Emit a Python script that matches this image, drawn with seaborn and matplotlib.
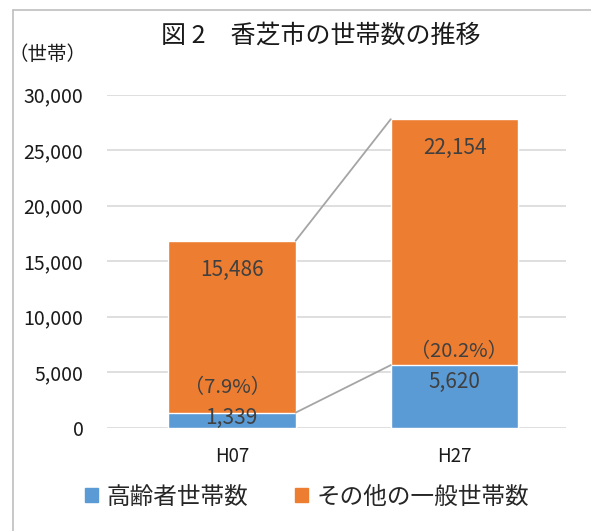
import matplotlib
matplotlib.use("Agg")
import matplotlib.pyplot as plt
import seaborn as sns
import pandas as pd
from matplotlib.lines import Line2D
from matplotlib.patches import Rectangle

# ---- data ----
categories = ["H07", "H27"]
elderly = [1339, 5620]
other = [15486, 22154]
pct_labels = ["（7.9%）", "（20.2%）"]
series_names = ["高齢者世帯数", "その他の一般世帯数"]
yticks = [0, 5000, 10000, 15000, 20000, 25000, 30000]
title = "図 2　香芝市の世帯数の推移"
ylabel = "（世帯）"

BLUE = "#5B9BD5"
ORANGE = "#ED7D31"
GRID = "#D9D9D9"
LBL = "#404040"

sns.set_theme(style="white")
plt.rcParams['font.family'] = ['Noto Sans CJK JP', 'DejaVu Sans']

df = pd.DataFrame({
    "cat": categories,
    "elderly": elderly,
    "other": other,
})
df["total"] = df["elderly"] + df["other"]

fig = plt.figure(figsize=(5.91, 5.31), dpi=100)
ax = fig.add_axes([107/591, 1-427.5/531, (566-107)/591, (427.5-94.5)/531])

sns.barplot(data=df, x="cat", y="total", color=ORANGE, width=0.573,
            saturation=1, ax=ax, zorder=2)
sns.barplot(data=df, x="cat", y="elderly", color=BLUE, width=0.573,
            saturation=1, ax=ax, zorder=3)

ax.set_ylim(0, 30000)
ax.set_xlim(-0.56, 1.50)
ax.set_yticks(yticks)
ax.set_yticklabels([f"{v:,}" for v in yticks], fontsize=14, color="#1a1a1a")
ax.tick_params(axis="y", length=0, pad=17)
ax.tick_params(axis="x", length=0, pad=13, labelsize=13.5, labelcolor="#1a1a1a")
ax.set_xlabel("")
ax.set_ylabel("")
for s in ax.spines.values():
    s.set_visible(False)
ax.grid(axis="y", color=GRID, linewidth=1.2, zorder=0)
ax.set_axisbelow(True)

patches = ax.patches
n = len(categories)
tot_bars = patches[:n]
eld_bars = patches[n:2*n]

# connector lines
for a, b in [(tot_bars[0], tot_bars[1]), (eld_bars[0], eld_bars[1])]:
    ax.plot([a.get_x() + a.get_width(), b.get_x()],
            [a.get_height(), b.get_height()],
            color="#A5A5A5", linewidth=1.3, zorder=4)

# value labels
for i in range(n):
    xc = tot_bars[i].get_x() + tot_bars[i].get_width() / 2
    ax.annotate(f"{other[i]:,}", (xc, df["total"][i]), xytext=(0, -21),
                textcoords="offset points", ha="center", va="center",
                fontsize=15, color=LBL, zorder=5)
offs_val = [-4, -12]
offs_pct = [18, 10]
offs_pct_x = [-3, 3]
for i in range(n):
    xc = eld_bars[i].get_x() + eld_bars[i].get_width() / 2
    ax.annotate(f"{elderly[i]:,}", (xc, elderly[i]), xytext=(0, offs_val[i]),
                textcoords="offset points", ha="center", va="center",
                fontsize=15, color=LBL, zorder=5)
    ax.annotate(pct_labels[i], (xc, elderly[i]), xytext=(offs_pct_x[i], offs_pct[i]),
                textcoords="offset points", ha="center", va="center",
                fontsize=14.5, color=LBL, zorder=5)

# title and y label
fig.text(321/591, 1-36/531, title, ha="center", va="center", fontsize=18, color="#1a1a1a")
fig.text(48/591, 1-55/531, ylabel, ha="center", va="center", fontsize=14, color="#1a1a1a")

# legend
handles = [Rectangle((0, 0), 1, 1, color=BLUE), Rectangle((0, 0), 1, 1, color=ORANGE)]
fig.legend(handles, series_names, loc="center", bbox_to_anchor=(307/591, 1-497/531),
           ncol=2, frameon=False, fontsize=17, handlelength=0.55, handleheight=0.55,
           handletextpad=0.35, columnspacing=2.0)

# frame border (left/top)
fig.add_artist(Line2D([13/591, 13/591], [0, 1-10/531], color="#BFBFBF", linewidth=1.2))
fig.add_artist(Line2D([13/591, 1], [1-10/531, 1-10/531], color="#BFBFBF", linewidth=1.2))

fig.savefig("out.png", dpi=100)
